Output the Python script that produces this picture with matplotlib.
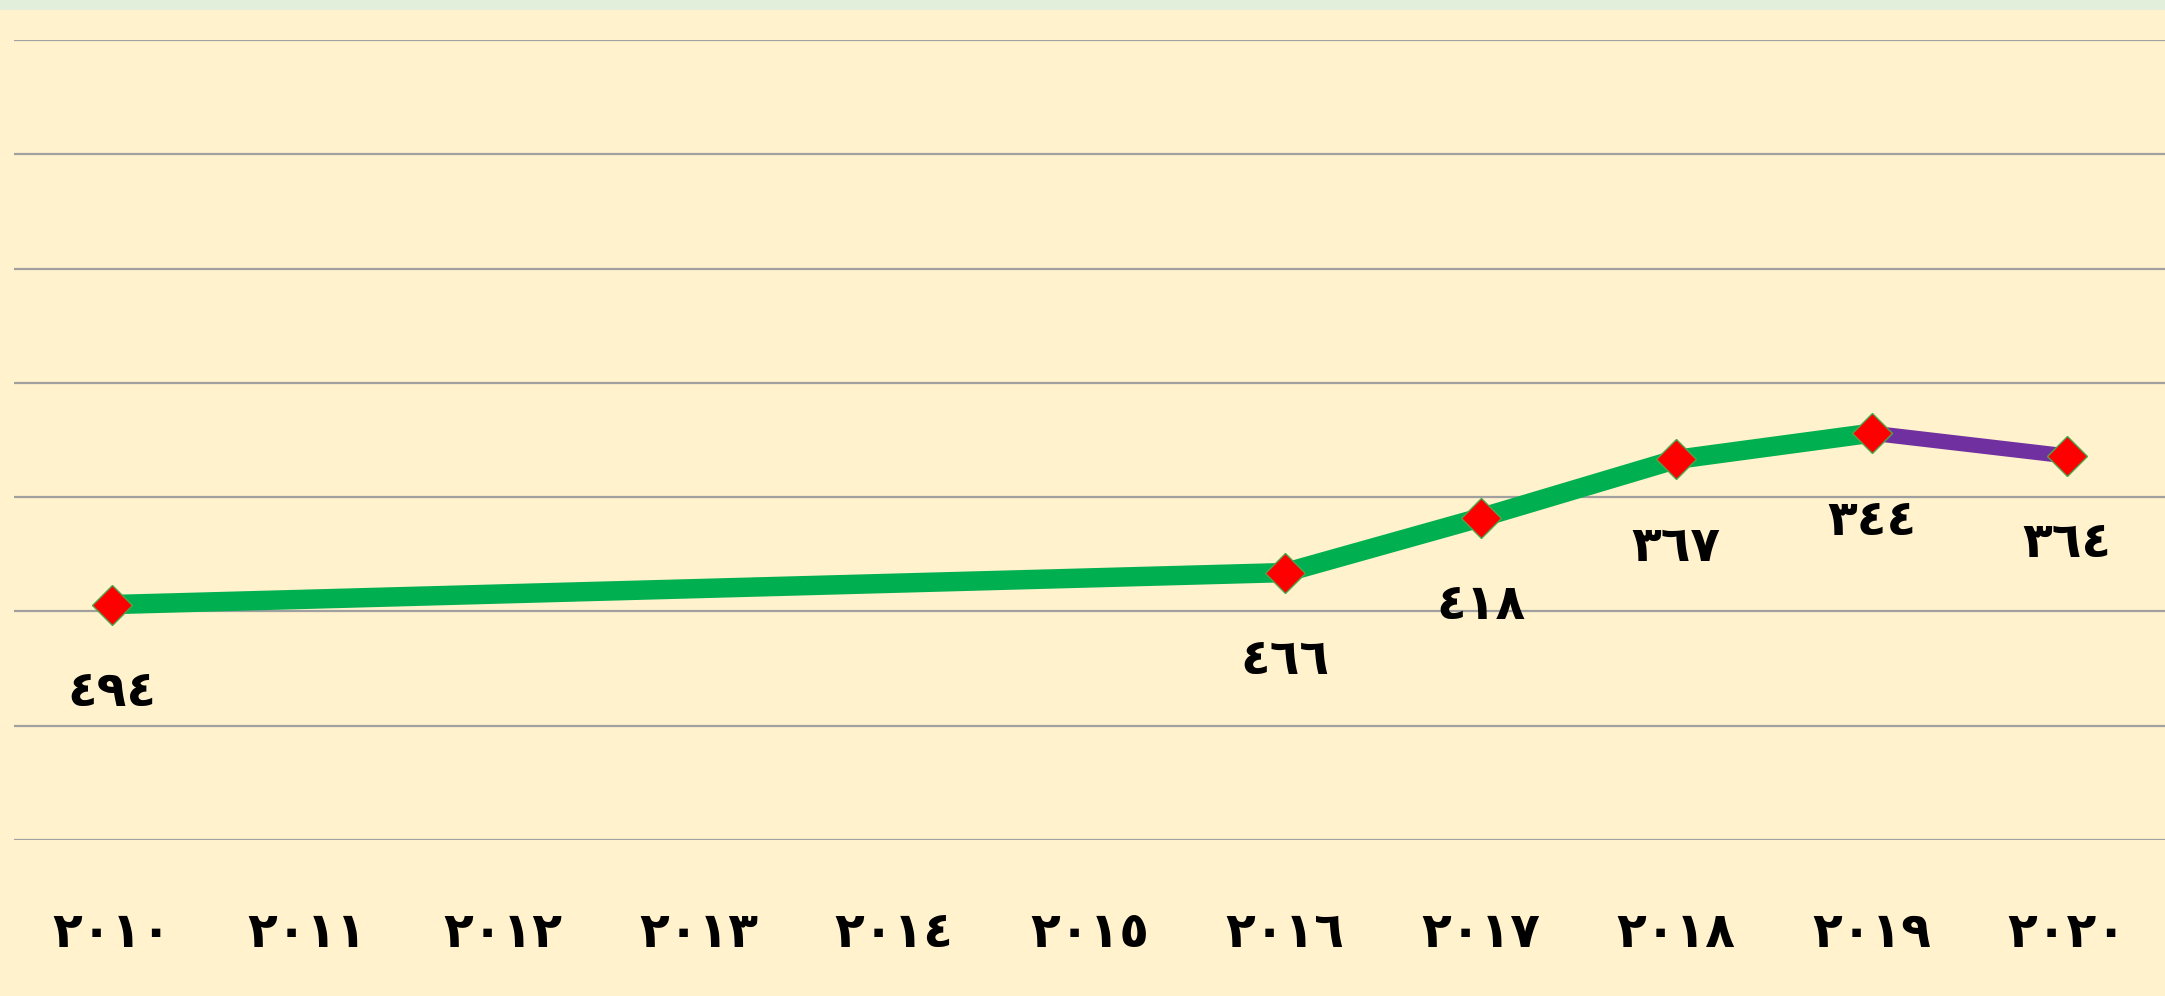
import matplotlib
matplotlib.use("Agg")
import matplotlib.pyplot as plt
from matplotlib.patches import Rectangle

# data
years = [2010, 2011, 2012, 2013, 2014, 2015, 2016, 2017, 2018, 2019, 2020]
year_labels = ["٢٠١٠", "٢٠١١", "٢٠١٢", "٢٠١٣", "٢٠١٤", "٢٠١٥",
               "٢٠١٦", "٢٠١٧", "٢٠١٨", "٢٠١٩", "٢٠٢٠"]
point_years = [2010, 2016, 2017, 2018, 2019, 2020]
point_values = [494, 466, 418, 367, 344, 364]
point_labels = ["٤٩٤", "٤٦٦", "٤١٨", "٣٦٧", "٣٤٤", "٣٦٤"]

bg = "#FFF2CC"
green = "#00B050"
purple = "#7030A0"

fig = plt.figure(figsize=(21.65, 9.96), dpi=100)
fig.patch.set_facecolor(bg)
fig.patches.append(Rectangle((0, 1 - 10 / 996), 1, 10 / 996, transform=fig.transFigure,
                             facecolor="#E2EFDA", edgecolor="none"))

ax = fig.add_axes([14 / 2165, 1 - 840 / 996, 1 - 14 / 2165, 800 / 996])
ax.set_facecolor(bg)
ax.set_xlim(2009.5, 2020.5)
ax.set_ylim(700, 0)
ax.set_yticks(range(0, 701, 100))
ax.yaxis.grid(True, color="#A0A0A0", linewidth=1.6)
ax.set_axisbelow(True)
for s in ax.spines.values():
    s.set_visible(False)
ax.tick_params(axis="y", left=False, labelleft=False)
ax.tick_params(axis="x", bottom=False, pad=46)
ax.set_xticks(years)
ax.set_xticklabels(year_labels, fontsize=35, fontweight="bold", family="DejaVu Sans")

# green part, then purple last segment
ax.plot(point_years[:-1], point_values[:-1], color=green, linewidth=14,
        solid_capstyle="butt", zorder=2)
ax.plot(point_years[-2:], point_values[-2:], color=purple, linewidth=11,
        solid_capstyle="butt", zorder=2)
ax.plot(point_years, point_values, linestyle="none", marker="D", markersize=20.5,
        markerfacecolor="red", markeredgecolor="#4CA64C", markeredgewidth=1, zorder=3)

for x, y, t in zip(point_years, point_values, point_labels):
    ax.annotate(t, (x, y), xytext=(0, -73), textcoords="offset points",
                ha="center", va="baseline", fontsize=35, fontweight="bold",
                family="DejaVu Sans", color="black")

fig.savefig("out.png", dpi=100, facecolor=bg)
